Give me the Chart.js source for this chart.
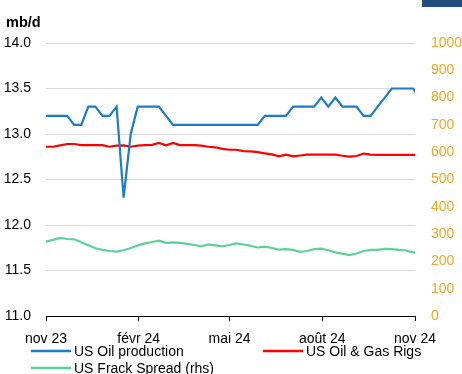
<!DOCTYPE html>
<html>
<head>
<meta charset="utf-8">
<script src="https://cdn.jsdelivr.net/npm/chart.js@4/dist/chart.umd.min.js"></script>
<style>
  html, body { margin: 0; padding: 0; background: #fff; }
  #wrap { position: relative; width: 462px; height: 374px; overflow: hidden; }
  canvas { display: block; }
</style>
</head>
<body>
<div id="wrap"><canvas id="c" width="462" height="374"></canvas></div>
<script>
// ---- Data ----
const weekDates = [
  '2023-11-03','2023-11-10','2023-11-17','2023-11-24','2023-12-01','2023-12-08','2023-12-15','2023-12-22','2023-12-29',
  '2024-01-05','2024-01-12','2024-01-19','2024-01-26','2024-02-02','2024-02-09','2024-02-16','2024-02-23',
  '2024-03-01','2024-03-08','2024-03-15','2024-03-22','2024-03-29','2024-04-05','2024-04-12','2024-04-19','2024-04-26',
  '2024-05-03','2024-05-10','2024-05-17','2024-05-24','2024-05-31','2024-06-07','2024-06-14','2024-06-21','2024-06-28',
  '2024-07-05','2024-07-12','2024-07-19','2024-07-26','2024-08-02','2024-08-09','2024-08-16','2024-08-23','2024-08-30',
  '2024-09-06','2024-09-13','2024-09-20','2024-09-27','2024-10-04','2024-10-11','2024-10-18','2024-10-25','2024-11-01','2024-11-08'
];
const oilProduction = [
  13.2,13.2,13.2,13.2,13.1,13.1,13.3,13.3,13.2,13.2,13.3,12.3,13.0,13.3,13.3,13.3,13.3,13.2,
  13.1,13.1,13.1,13.1,13.1,13.1,13.1,13.1,13.1,13.1,13.1,13.1,13.1,
  13.2,13.2,13.2,13.2,13.3,13.3,13.3,13.3,13.4,13.3,13.4,13.3,13.3,13.3,13.2,13.2,13.3,13.4,
  13.5,13.5,13.5,13.5,13.4
];
const rigs = [
  620,620,625,630,630,626,626,626,626,620,624,625,620,624,626,627,634,625,634,626,626,626,624,620,618,612,
  609,609,604,603,600,596,592,585,591,585,588,591,591,591,591,591,587,584,586,595,591,590,590,590,590,590,590,590
];
const frackSpread = [
  272,279,286,282,281,270,259,248,242,238,236,241,249,258,266,271,276,268,270,268,264,260,255,262,259,255,
  260,266,262,257,251,254,249,243,245,242,235,238,245,247,241,233,228,223,229,238,242,242,246,245,242,240,233,230
];
const tickDates = ['2023-11-03','2024-02-03','2024-05-03','2024-08-03','2024-11-03'];
const tickLabels = ['nov 23','févr 24','mai 24','août 24','nov 24'];
const leftTicks = [11.0, 11.5, 12.0, 12.5, 13.0, 13.5, 14.0];
const rightTicks = [0,100,200,300,400,500,600,700,800,900,1000];
const seriesNames = ['US Oil production','US Oil & Gas Rigs','US Frack Spread (rhs)'];
const unitLabel = 'mb/d';

// ---- Helpers ----
const DAY = 86400000;
const t0 = Date.parse(tickDates[0] + 'T00:00:00Z');
const dayOf = s => Math.round((Date.parse(s + 'T00:00:00Z') - t0) / DAY);
const xs = weekDates.map(dayOf);
const tickDays = tickDates.map(dayOf);
const pts = arr => arr.map((v, i) => ({ x: xs[i], y: v }));

const FONT = "'Liberation Sans', Arial, sans-serif";
const BLUE = '#1B7DC4', RED = '#FF0000', GREEN = '#5CD29A', ORANGE = '#F5A623';

const decor = {
  id: 'decor',
  afterDraw(chart) {
    const ctx = chart.ctx;
    ctx.save();
    ctx.fillStyle = '#1F4E7D';
    ctx.fillRect(422, 0, 40, 7);
    ctx.fillStyle = '#000';
    ctx.font = "bold 14.5px " + FONT;
    ctx.textBaseline = 'middle';
    ctx.textAlign = 'left';
    ctx.fillText(unitLabel, 6, 23);
    const items = [
      { x: 31, y: 351, c: BLUE, t: seriesNames[0] },
      { x: 263, y: 351, c: RED, t: seriesNames[1] },
      { x: 31, y: 368, c: GREEN, t: seriesNames[2] }
    ];
    ctx.font = "14px " + FONT;
    items.forEach(it => {
      ctx.strokeStyle = it.c;
      ctx.lineWidth = 2.5;
      ctx.beginPath();
      ctx.moveTo(it.x, it.y);
      ctx.lineTo(it.x + 40, it.y);
      ctx.stroke();
      ctx.fillStyle = '#000';
      ctx.fillText(it.t, it.x + 43, it.y + 1);
    });
    ctx.restore();
  }
};

new Chart(document.getElementById('c'), {
  type: 'line',
  data: {
    datasets: [
      { label: seriesNames[0], data: pts(oilProduction), yAxisID: 'y', borderColor: BLUE, borderWidth: 2.2, pointRadius: 0, tension: 0 },
      { label: seriesNames[1], data: pts(rigs), yAxisID: 'y2', borderColor: RED, borderWidth: 2.2, pointRadius: 0, tension: 0 },
      { label: seriesNames[2], data: pts(frackSpread), yAxisID: 'y2', borderColor: GREEN, borderWidth: 2.2, pointRadius: 0, tension: 0 }
    ]
  },
  options: {
    responsive: false,
    animation: false,
    events: [],
    layout: { padding: { top: 43, left: 0, right: 0, bottom: 0 } },
    plugins: { legend: { display: false }, tooltip: { enabled: false } },
    scales: {
      x: {
        type: 'linear',
        min: tickDays[0],
        max: tickDays[tickDays.length - 1],
        afterBuildTicks: s => { s.ticks = tickDays.map(v => ({ value: v })); },
        afterFit: s => { s.height = 58; },
        ticks: {
          autoSkip: false, maxRotation: 0, padding: 10,
          color: '#000', font: { family: FONT, size: 14 },
          callback: (v) => { const i = tickDays.indexOf(v); return i >= 0 ? tickLabels[i] : ''; }
        },
        grid: { display: true, drawOnChartArea: false, drawTicks: true, tickLength: 5, color: '#000', lineWidth: 1 },
        border: { display: true, color: '#000', width: 1 }
      },
      y: {
        position: 'left',
        min: 11, max: 14,
        afterBuildTicks: s => { s.ticks = leftTicks.map(v => ({ value: v })); },
        afterFit: s => { s.width = 46; },
        ticks: { padding: 15, color: '#000', font: { family: FONT, size: 14 }, callback: v => Number(v).toFixed(1) },
        grid: { color: '#D9D9D9', lineWidth: 1, drawTicks: false },
        border: { display: false }
      },
      y2: {
        position: 'right',
        min: 0, max: 1000,
        afterBuildTicks: s => { s.ticks = rightTicks.map(v => ({ value: v })); },
        afterFit: s => { s.width = 47; },
        ticks: { padding: 16, color: ORANGE, font: { family: FONT, size: 14 }, callback: v => String(v) },
        grid: { display: false, drawTicks: false },
        border: { display: false }
      }
    }
  },
  plugins: [decor]
});
</script>
</body>
</html>
